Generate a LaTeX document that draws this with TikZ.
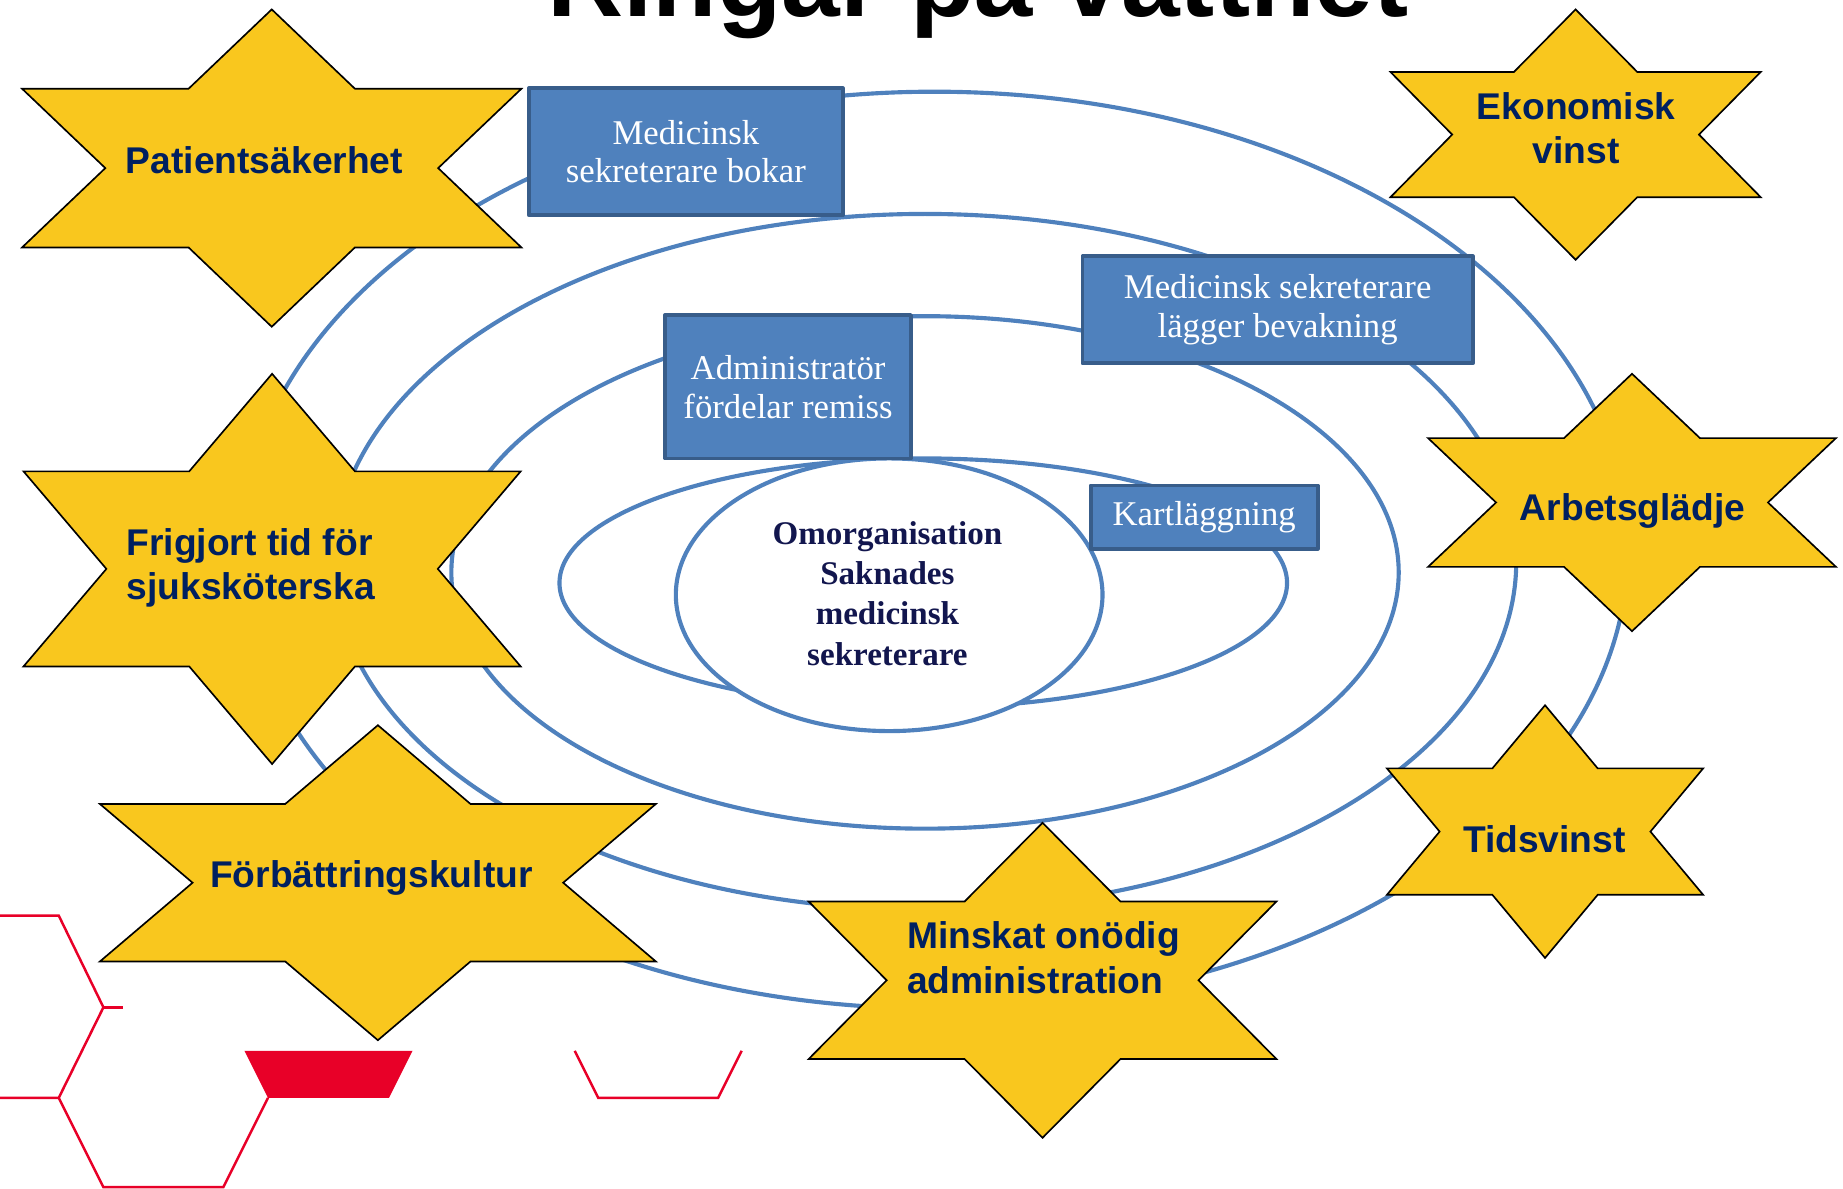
\documentclass[tikz,border=0pt]{standalone}
\usepackage{fontspec}
\setmainfont{Liberation Serif}
\setsansfont{Liberation Sans}
\usepackage{xcolor}
\usepackage{tikz}
\definecolor{stargold}{RGB}{249,199,30}
\definecolor{starnavy}{RGB}{0,32,96}
\definecolor{ringblue}{RGB}{79,129,189}
\definecolor{boxedge}{RGB}{56,93,138}
\definecolor{hexred}{RGB}{232,0,40}
\definecolor{corenavy}{RGB}{18,22,78}
\tikzstyle{ring} = [line width=1pt,draw=ringblue]
\tikzstyle{hexline} = [line width=0.6pt,draw=hexred,line cap=butt,line join=miter]
\tikzstyle{blockbox} = [draw=boxedge,fill=ringblue,line width=0.9pt,text=white,align=center,inner sep=0pt,font=\fontsize{8.4}{9.4}\selectfont]
\tikzstyle{startext} = [text=starnavy,font=\sffamily\bfseries\fontsize{9}{10.8}\selectfont]
% six-pointed star: centre x, centre y, half width, half height
\newcommand{\hexstar}[4]{%
  \filldraw[fill=stargold,draw=black,line width=0.4pt,line join=miter,shift={(#1,#2)},xscale=#3,yscale=#4]
    (0,-1) -- (1/3,-1/2) -- (1,-1/2) -- (2/3,0) -- (1,1/2) -- (1/3,1/2) -- (0,1)
    -- (-1/3,1/2) -- (-1,1/2) -- (-2/3,0) -- (-1,-1/2) -- (-1/3,-1/2) -- cycle;}

\begin{document}
\begin{tikzpicture}[line cap=round,line join=round,x=0.01cm,y=-0.01cm]
                \useasboundingbox (0,0) rectangle (1568,1011);
                \clip (0,0) rectangle (1568,1011);
                % rings
                \draw [ring] (795,468) ellipse [x radius=590,y radius=390];
                \draw [ring] (787,478) ellipse [x radius=503,y radius=296];
                \draw [ring] (787,487) ellipse [x radius=403,y radius=218];
                \draw [ring] (785.5,496) ellipse [x radius=309.5,y radius=106];
                \filldraw [ring,fill=white] (756.5,506) ellipse [x radius=181.5,y radius=116];
                % red hexagon pieces
                \draw [hexline] (0,779)-- (50,779)-- (88,857)-- (50,934)-- (0,934);
                \draw [hexline] (88,857)-- (105,857);
                \draw [hexline] (50,934)-- (88,1010)-- (190,1010)-- (228,934);
                \fill [hexred] (208,894)-- (351,894)-- (331,934)-- (228,934)-- cycle;
                \draw [hexline] (489,894)-- (509,934)-- (611,934)-- (631,894);
                % boxes
                \draw (583.5,129) node[blockbox,minimum width=2.67cm,minimum height=1.08cm] (bokar) {Medicinsk\\sekreterare bokar};
                \draw (670.5,329) node[blockbox,minimum width=2.09cm,minimum height=1.22cm] (remiss) {Administratör\\fördelar remiss};
                \draw (1087,263.5) node[blockbox,minimum width=3.32cm,minimum height=0.91cm] (bevakning) {Medicinsk sekreterare\\lägger bevakning};
                \draw (1024.5,440) node[blockbox,minimum width=1.93cm,minimum height=0.54cm] (kartlagg) {Kartläggning};
                \draw[color=corenavy] (755,505) node[align=center,font=\bfseries\fontsize{8}{9.7}\selectfont] (omorg) {Omorganisation\\Saknades\\medicinsk\\sekreterare};
                % stars
                \hexstar{231.2}{143}{212.4}{135}
                \hexstar{1340.5}{114.5}{157.5}{106.5}
                \hexstar{231.5}{484}{211.5}{166}
                \hexstar{1388.5}{427.5}{173.5}{109.5}
                \hexstar{321.5}{751}{236.5}{134}
                \hexstar{1314.5}{707.5}{134.5}{107.5}
                \hexstar{887}{834}{199}{134}
                \draw (225,136) node[startext] (patient) {Patientsäkerhet};
                \draw (1341,109) node[startext,align=center] (ekonomi) {Ekonomisk\\vinst};
                \draw (107,483) node[startext,align=left,anchor=west,inner sep=0pt] (frigjort) {Frigjort tid för\\sjuksköterska};
                \draw (1389,435) node[startext] (gladje) {Arbetsglädje};
                \draw (316,747) node[startext] (kultur) {Förbättringskultur};
                \draw (1314,714) node[startext] (tidsvinst) {Tidsvinst};
                \draw (771,815) node[startext,align=left,anchor=west,inner sep=0pt] (minskat) {Minskat onödig\\administration};
                % title, cut by the top edge
                \draw (832,14) node[anchor=base,inner sep=0pt,font=\sffamily\bfseries\fontsize{25.5}{30}\selectfont] (title) {Ringar på vattnet};
            \end{tikzpicture}
\end{document}
